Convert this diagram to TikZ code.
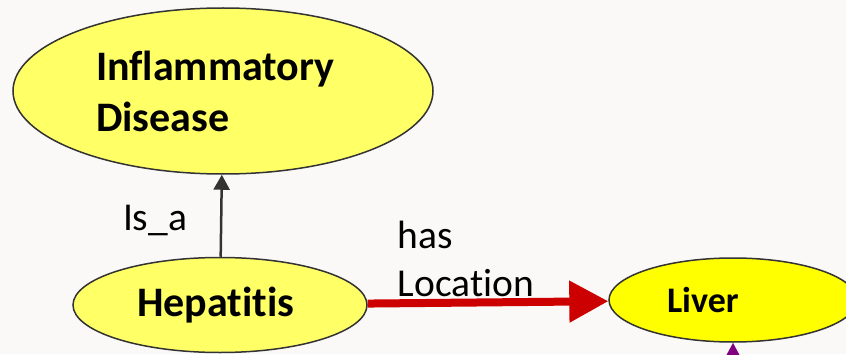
\documentclass[tikz,border=0pt]{standalone}
\usepackage{fontspec}
\setmainfont{Carlito}[Ligatures=NoCommon]
\usepackage{color}
\usetikzlibrary{shapes,arrows.meta}

\definecolor{paleyellow}{HTML}{FFFF66}
\definecolor{liveryellow}{HTML}{FFFF00}
\definecolor{darkline}{HTML}{333333}
\definecolor{locred}{HTML}{CC0000}
\definecolor{partpurple}{HTML}{800080}
\definecolor{paper}{HTML}{FAF9F8}

\begin{document}
\begin{tikzpicture}[x=1pt,y=1pt,
    concept/.style={ellipse,draw=darkline,line width=1.5pt,fill=paleyellow,inner sep=0pt,
      align=left,font=\bfseries\fontsize{42}{51}\selectfont},
    rel/.style={inner sep=0pt,align=left,font=\fontsize{39.5}{48}\selectfont},
    isa/.style={draw=darkline,line width=2.5pt,-{Triangle[length=15pt,width=16pt]}},
    loc/.style={draw=locred,line width=8pt,-{Triangle[length=39pt,width=40pt]}},
    part/.style={draw=partpurple,line width=3pt,-{Triangle[length=14pt,width=14pt]}}]
      \fill [paper] (0,0) rectangle (846,354);
      \useasboundingbox (0,0) rectangle (846,354);
      \node [concept,minimum width=294pt,minimum height=95pt,text width=166pt] (hep) at (220,49) {Hepatitis};
      \node [concept,minimum width=420pt,minimum height=166pt,text width=254pt] (infl) [above of=hep,node distance=214pt,xshift=3pt] {Inflammatory\\Disease};
      \node [concept,fill=liveryellow,minimum width=248pt,minimum height=84pt,text width=132pt,
        font=\bfseries\fontsize{36}{42}\selectfont] (liver) [right of=hep,node distance=513pt,yshift=5pt] {Liver};
      \coordinate [below of=liver,node distance=90pt] (liverin);
      \path
      (hep) edge [isa] node[rel,left=33pt,yshift=-5pt] {Is\_a} (infl)
      (hep) edge [loc] node[rel,above,xshift=-22pt,yshift=2pt] {has\\Location} (liver)
      (liverin) edge [part] (liver)
      ;
  \end{tikzpicture}
\end{document}
